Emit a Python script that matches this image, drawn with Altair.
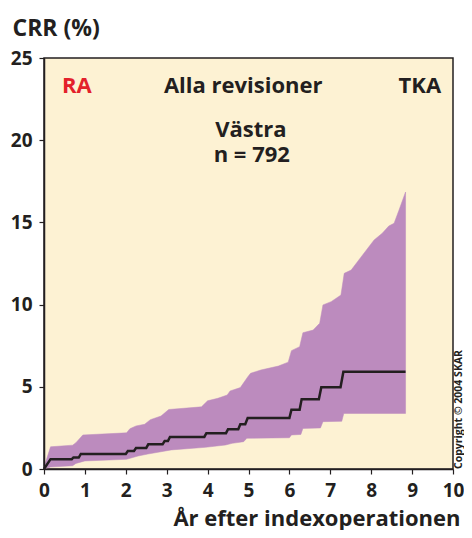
import altair as alt
import pandas as pd

# Black CRR line (years, %)
line_t = [0, 0.16, 0.68, 0.72, 0.85, 0.9, 2.0, 2.05, 2.2, 2.25, 2.5, 2.55, 2.9, 2.95, 3.03, 3.08,
          3.92, 3.97, 4.45, 4.5, 4.75, 4.8, 4.92, 4.98, 6.0, 6.05, 6.25, 6.3, 6.72, 6.78, 7.25, 7.32, 8.84]
line_v = [0, 0.6, 0.6, 0.7, 0.7, 0.92, 0.92, 1.1, 1.1, 1.28, 1.28, 1.5, 1.5, 1.7, 1.7, 1.95,
          1.95, 2.18, 2.18, 2.42, 2.42, 2.72, 2.72, 3.1, 3.1, 3.6, 3.6, 4.25, 4.25, 4.98, 4.98, 5.92, 5.92]

# Upper confidence bound
up_t = [0, 0.16, 0.7, 0.78, 0.95, 2.02, 2.1, 2.25, 2.46, 2.6, 2.86, 3.05, 3.85, 4.0, 4.25, 4.48, 4.55,
        4.8, 4.98, 5.05, 5.3, 5.73, 5.97, 6.05, 6.25, 6.33, 6.58, 6.74, 6.82, 7.02, 7.26, 7.34, 7.51,
        7.79, 8.07, 8.27, 8.43, 8.56, 8.68, 8.84]
up_v = [0.1, 1.35, 1.45, 1.6, 2.07, 2.2, 2.45, 2.62, 2.72, 3.0, 3.22, 3.62, 3.78, 4.15, 4.3, 4.5, 4.75,
        4.95, 5.6, 5.82, 6.02, 6.26, 6.5, 7.2, 7.44, 8.29, 8.45, 8.86, 9.98, 10.18, 10.58, 11.9, 12.1,
        13.02, 13.93, 14.34, 14.78, 14.95, 15.75, 16.85]

# Lower confidence bound
lo_t = [0, 0.16, 0.7, 0.78, 1.0, 2.02, 2.3, 2.54, 2.86, 3.11, 3.95, 4.44, 4.6, 4.88, 4.96, 6.0, 6.05,
        6.28, 6.33, 6.76, 6.82, 7.28, 7.33, 8.84]
lo_v = [0, 0.12, 0.2, 0.34, 0.49, 0.59, 0.79, 0.91, 1.05, 1.16, 1.32, 1.46, 1.56, 1.66, 1.87, 1.9, 2.07,
        2.1, 2.47, 2.5, 2.88, 2.9, 3.38, 3.38]

x_ticks = list(range(0, 11))
y_ticks = [0, 5, 10, 15, 20, 25]

labels_txt = ["RA", "Alla revisioner", "TKA", "Västra", "n = 792"]
labels_x = [0.44, 4.87, 9.71, 5.06, 5.08]
labels_y = [22.9, 22.9, 22.9, 20.2, 18.7]
labels_align = ["left", "center", "right", "center", "center"]
labels_color = ["#E3212B", "#231F20", "#231F20", "#231F20", "#231F20"]

BG = "#FDF2D3"
PURPLE = "#BC8BBE"
DARK = "#231F20"
FONT = "Open Sans"

line_df = pd.DataFrame({"t": line_t, "v": line_v})
# band polygon: upper bound forward, lower bound backward
band_df = pd.DataFrame({
    "t": up_t + lo_t[::-1],
    "v": up_v + lo_v[::-1],
    "o": list(range(len(up_t) + len(lo_t))),
})
lab_df = pd.DataFrame({"t": labels_x, "v": labels_y, "txt": labels_txt,
                       "al": labels_align, "col": labels_color})
copy_df = pd.DataFrame({"t": [10.208], "v": [0.0], "txt": ["Copyright © 2004 SKAR"]})

xs = alt.Scale(domain=[0, 10], nice=False, zero=False)
ys = alt.Scale(domain=[0, 25], nice=False)

xax = alt.Axis(values=x_ticks, title="År efter indexoperationen", grid=False,
               tickSize=5, tickColor=DARK, domainColor=DARK, domainWidth=1.5, tickWidth=1.2,
               labelFont=FONT, labelFontSize=19, labelFontWeight="bold", labelColor=DARK,
               labelPadding=7, labelFlush=False,
               titleFont=FONT, titleFontSize=22, titleFontWeight="bold", titleColor=DARK,
               titleAnchor="end", titleAlign="right", titleX=416, titleY=56,
               titleBaseline="alphabetic", zindex=1)
yax = alt.Axis(values=y_ticks, title="CRR (%)", grid=False,
               tickSize=5, tickColor=DARK, domainColor=DARK, domainWidth=1.5, tickWidth=1.2,
               labelFont=FONT, labelFontSize=19, labelFontWeight="bold", labelColor=DARK,
               labelPadding=7, labelFlush=False,
               titleFont=FONT, titleFontSize=23, titleFontWeight="bold", titleColor=DARK,
               titleAngle=0, titleAlign="left", titleBaseline="alphabetic",
               titleX=-32, titleY=-23, zindex=1)

band = alt.Chart(band_df).mark_line(fill=PURPLE, color=PURPLE, strokeWidth=0.5,
                                    interpolate="linear").encode(
    x=alt.X("t:Q", scale=xs, axis=xax),
    y=alt.Y("v:Q", scale=ys, axis=yax),
    order=alt.Order("o:Q"),
)
crr = alt.Chart(line_df).mark_line(color=DARK, strokeWidth=2.5, interpolate="linear").encode(
    x=alt.X("t:Q", scale=xs),
    y=alt.Y("v:Q", scale=ys),
)


def text_layer(al):
    return alt.Chart(lab_df).transform_filter(alt.datum.al == al).mark_text(
        font=FONT, fontSize=22, fontWeight="bold", baseline="alphabetic", align=al
    ).encode(
        x=alt.X("t:Q", scale=xs),
        y=alt.Y("v:Q", scale=ys),
        text="txt:N",
        color=alt.Color("col:N", scale=None, legend=None),
    )


copyright_txt = alt.Chart(copy_df).mark_text(font=FONT, fontSize=10.5, fontWeight="bold",
                                             angle=270, align="left", baseline="alphabetic",
                                             color=DARK, clip=False).encode(
    x=alt.X("t:Q", scale=xs),
    y=alt.Y("v:Q", scale=ys),
    text="txt:N",
)

chart = alt.layer(band, crr, text_layer("left"), text_layer("center"),
                  text_layer("right"), copyright_txt).properties(
    width=409, height=411,
    autosize=alt.AutoSizeParams(type="none"),
    padding={"left": 36, "top": 50, "right": 11, "bottom": 61},
    background="white",
).configure_view(fill=BG, stroke=DARK, strokeWidth=1.5)

chart.save("out.html", embed_options={"renderer": "svg", "actions": False})
